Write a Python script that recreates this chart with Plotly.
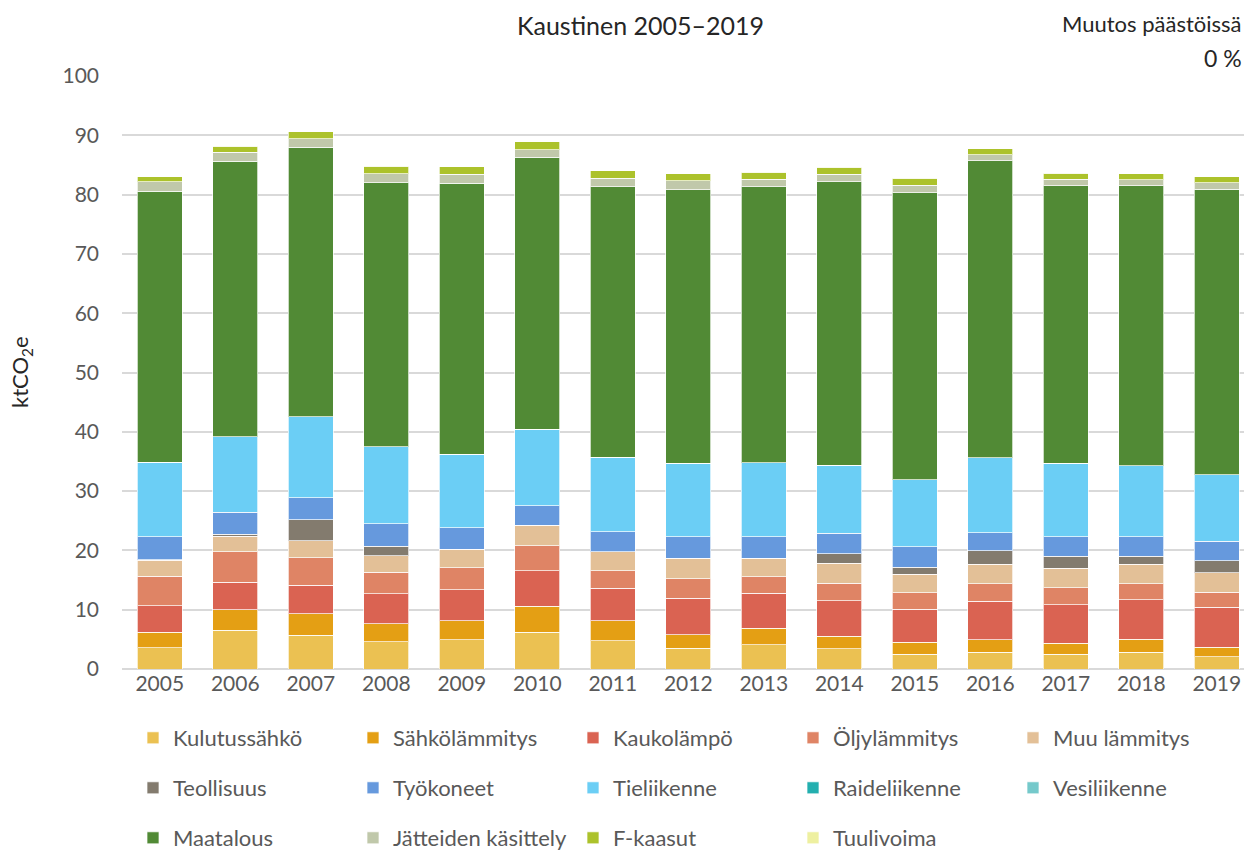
import plotly.graph_objects as go

years = [str(y) for y in range(2005, 2020)]

kulutussahko   = [3.6, 6.5, 5.7, 4.6, 4.9, 6.2, 4.8, 3.5, 4.1, 3.4, 2.5, 2.8, 2.5, 2.8, 2.1]
sahkolammitys  = [2.6, 3.5, 3.6, 3.0, 3.2, 4.4, 3.3, 2.3, 2.8, 2.1, 2.0, 2.1, 1.85, 2.2, 1.6]
kaukolampo     = [4.5, 4.6, 4.8, 5.1, 5.3, 6.0, 5.5, 6.1, 5.85, 6.0, 5.6, 6.5, 6.5, 6.7, 6.75]
oljylammitys   = [4.9, 5.2, 4.7, 3.6, 3.7, 4.2, 3.0, 3.3, 2.8, 3.0, 2.75, 3.0, 2.85, 2.7, 2.5]
muu_lammitys   = [2.7, 2.6, 2.8, 2.8, 3.1, 3.4, 3.15, 3.5, 3.15, 3.3, 3.1, 3.25, 3.3, 3.25, 3.3]
teollisuus     = [0.1, 0.35, 3.6, 1.6, 0.0, 0.0, 0.0, 0.0, 0.0, 1.6, 1.2, 2.25, 2.0, 1.35, 2.0]
tyokoneet      = [3.9, 3.7, 3.7, 3.8, 3.6, 3.3, 3.4, 3.6, 3.6, 3.5, 3.5, 3.1, 3.3, 3.3, 3.3]
tieliikenne    = [12.6, 12.7, 13.6, 13.0, 12.4, 12.9, 12.55, 12.4, 12.5, 11.5, 11.25, 12.65, 12.4, 12.0, 11.25]
raideliikenne  = [0.0] * 15
vesiliikenne   = [0.0] * 15
maatalous      = [45.7, 46.5, 45.5, 44.5, 45.7, 45.9, 45.6, 46.1, 46.5, 47.8, 48.4, 50.1, 46.8, 47.2, 48.1]
jatteiden      = [1.6, 1.5, 1.4, 1.5, 1.5, 1.3, 1.5, 1.5, 1.3, 1.2, 1.3, 1.0, 1.1, 1.0, 1.1]
f_kaasut       = [0.8, 1.0, 1.2, 1.3, 1.3, 1.3, 1.2, 1.2, 1.2, 1.2, 1.2, 1.0, 1.0, 1.0, 1.0]
tuulivoima     = [0.0] * 15

series = [
    ("Kulutussähkö", kulutussahko, "#EBC152", "legend"),
    ("Sähkölämmitys", sahkolammitys, "#E49F14", "legend"),
    ("Kaukolämpö", kaukolampo, "#DA6352", "legend"),
    ("Öljylämmitys", oljylammitys, "#DF8465", "legend"),
    ("Muu lämmitys", muu_lammitys, "#E3C097", "legend"),
    ("Teollisuus", teollisuus, "#837B6E", "legend2"),
    ("Työkoneet", tyokoneet, "#6699DD", "legend2"),
    ("Tieliikenne", tieliikenne, "#6BCEF5", "legend2"),
    ("Raideliikenne", raideliikenne, "#23AFAF", "legend2"),
    ("Vesiliikenne", vesiliikenne, "#75C9CB", "legend2"),
    ("Maatalous", maatalous, "#518A35", "legend3"),
    ("Jätteiden käsittely", jatteiden, "#C0C8AA", "legend3"),
    ("F-kaasut", f_kaasut, "#ACC22B", "legend3"),
    ("Tuulivoima", tuulivoima, "#EEF0A0", "legend3"),
]

FONT = "Lato"
TXT = "#595959"
DARK = "#262626"

fig = go.Figure()
for name, vals, col, lg in series:
    fig.add_trace(go.Bar(
        x=years, y=vals, name=name, legend=lg,
        marker=dict(color=col, line=dict(color="rgba(255,255,255,0.7)", width=1)),
    ))

W, H = 1244, 850
L, R, T, B = 122, 0, 76, 181
PW, PH = W - L - R, H - T - B

def leg(ypix):
    return dict(
        orientation="h", xref="container", yref="container",
        x=133 / W, y=1 - ypix / H, xanchor="left", yanchor="middle",
        entrywidth=175, entrywidthmode="pixels",
        font=dict(family=FONT, size=22, color=TXT),
        bgcolor="rgba(0,0,0,0)", traceorder="normal",
    )

fig.update_layout(
    width=W, height=H,
    margin=dict(l=L, r=R, t=T, b=B),
    barmode="stack", bargap=0.4,
    plot_bgcolor="white", paper_bgcolor="white",
    font=dict(family=FONT, color=TXT),
    legend=leg(738), legend2=leg(788), legend3=leg(838),
    xaxis=dict(
        type="category", range=[-0.5, 14.361],
        tickfont=dict(family=FONT, size=21, color=TXT),
        showgrid=False, ticks="", showline=False,
    ),
    yaxis=dict(
        range=[0, 100], dtick=10,
        tickfont=dict(family=FONT, size=21, color=TXT),
        gridcolor="#D9D9D9", gridwidth=1.5,
        zeroline=True, zerolinecolor="#D9D9D9", zerolinewidth=1.5,
        ticks="", ticklabelstandoff=22,
    ),
    annotations=[
        dict(text="Kaustinen 2005–2019", xref="paper", yref="paper",
             x=(640 - L) / PW, y=1 + (T - 25) / PH,
             xanchor="center", yanchor="middle", showarrow=False,
             font=dict(family=FONT, size=25, color=DARK)),
        dict(text="Muutos päästöissä", xref="paper", yref="paper",
             x=1, y=1 + (T - 24) / PH,
             xanchor="right", yanchor="middle", showarrow=False,
             font=dict(family=FONT, size=22, color=DARK)),
        dict(text="0 %", xref="paper", yref="paper",
             x=1, y=1 + (T - 58) / PH,
             xanchor="right", yanchor="middle", showarrow=False,
             font=dict(family=FONT, size=23, color=DARK)),
        dict(text="ktCO<sub>2</sub>e", xref="paper", yref="paper",
             x=(21 - L) / PW, y=(669 - 372) / PH,
             xanchor="center", yanchor="middle", showarrow=False, textangle=-90,
             font=dict(family=FONT, size=22, color=DARK)),
    ],
    shapes=[
        dict(type="rect", xref="paper", yref="paper",
             x0=(1157 - L) / PW, x1=1, y0=0.995, y1=1.01,
             fillcolor="white", line=dict(width=0), layer="above"),
    ],
)

fig.write_html(
    "out.html",
    config={"displayModeBar": False},
    post_script="document.body.style.margin='0';document.documentElement.style.overflow='hidden';",
)
